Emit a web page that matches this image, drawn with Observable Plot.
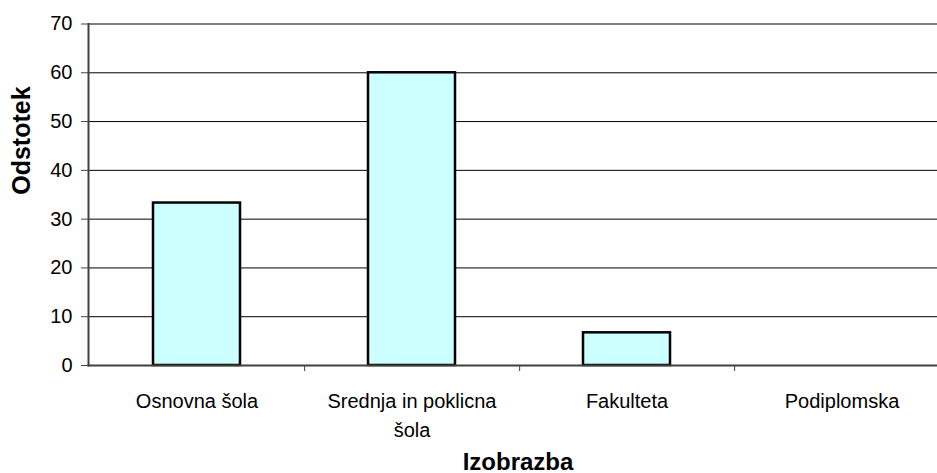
<!DOCTYPE html>
<html>
<head>
<meta charset="utf-8">
<script src="https://cdn.jsdelivr.net/npm/d3@7"></script>
<script src="https://cdn.jsdelivr.net/npm/@observablehq/plot@0.6"></script>
<style>
  html, body { margin: 0; padding: 0; background: #fff; overflow: hidden; }
  svg { overflow: hidden; }
</style>
</head>
<body>
<div id="chart"></div>
<script>
const categories = ["Osnovna šola", "Srednja in poklicna šola", "Fakulteta", "Podiplomska"];
const tickLabels = ["Osnovna šola", "Srednja in poklicna\nšola", "Fakulteta", "Podiplomska"];
const values = [33.3, 60, 6.7, 0];
const yTicks = [0, 10, 20, 30, 40, 50, 60, 70];
const gridTicks = [10, 20, 30, 40, 50, 60];
const yLabel = "Odstotek";
const xLabel = "Izobrazba";

const data = categories.map((c, i) => ({category: c, value: values[i]}));
const font = "Liberation Sans, Arial, Helvetica, sans-serif";

const W = 937, H = 473;
const step = (949 - 88) / categories.length;

const chart = Plot.plot({
  width: W,
  height: H,
  marginLeft: 88,
  marginRight: 0,
  marginTop: 23.5,
  marginBottom: 108,
  style: {fontFamily: font, background: "#fff", color: "#000"},
  x: {domain: categories, range: [88, 949], padding: 0, axis: null},
  y: {domain: [0, 70], axis: null},
  marks: [
    // gridlines
    Plot.ruleY(gridTicks, {stroke: "#000", strokeWidth: 1}),
    // top border of plot area
    Plot.ruleY([70], {stroke: "#808080", strokeWidth: 2}),
    // bars
    Plot.barY(data.filter(d => d.value > 0), {
      x: "category", y: "value",
      fill: "#ccffff", stroke: "#000", strokeWidth: 2.5,
      insetLeft: 64, insetRight: 64
    }),
    // axis lines
    Plot.frame({anchor: "left", stroke: "#404040", strokeWidth: 2}),
    Plot.frame({anchor: "bottom", stroke: "#404040", strokeWidth: 2}),
    // y ticks + labels
    Plot.axisY(yTicks, {
      anchor: "left", tickSize: 7, tickPadding: 9, stroke: "#404040",
      fontSize: 20, label: null, tickFormat: d => String(d)
    }),
    // x ticks between categories
    Plot.ruleX(categories, {
      x: d => d, dx: step / 2, y1: 0, y2: 0, insetBottom: -6,
      stroke: "#404040", strokeWidth: 1
    }),
    // category labels
    Plot.text(categories, {
      x: d => d, text: (d, i) => tickLabels[i],
      frameAnchor: "bottom", lineAnchor: "top", dy: 22, lineHeight: 1.45,
      fontSize: 20, fill: "#000"
    }),
    // axis titles
    Plot.text([yLabel], {
      frameAnchor: "left", rotate: -90, dx: -67,
      fontSize: 25, fontWeight: "bold", fill: "#000"
    }),
    Plot.text([xLabel], {
      frameAnchor: "bottom", dx: 5, dy: 104,
      fontSize: 24, fontWeight: "bold", fill: "#000"
    })
  ]
});

document.getElementById("chart").appendChild(chart);
</script>
</body>
</html>
